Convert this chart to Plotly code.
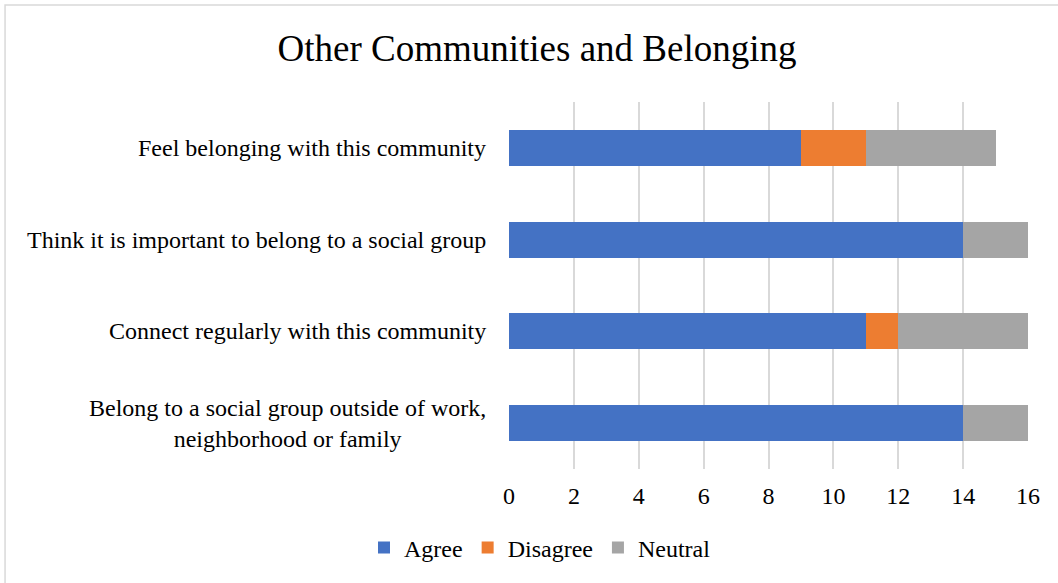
import plotly.graph_objects as go

# Survey statements (bottom to top) and response counts
statements = [
    "Belong to a social group outside of work,<br>neighborhood or family",
    "Connect regularly with this community",
    "Think it is important to belong to a social group",
    "Feel belonging with this community",
]
agree = [14, 11, 14, 9]
disagree = [0, 1, 0, 2]
neutral = [2, 4, 2, 4]

x_ticks = [0, 2, 4, 6, 8, 10, 12, 14, 16]

FONT = "Liberation Serif"

fig = go.Figure()
for name, vals, color in [
    ("Agree", agree, "#4472C4"),
    ("Disagree", disagree, "#ED7D31"),
    ("Neutral", neutral, "#A5A5A5"),
]:
    fig.add_trace(go.Bar(
        y=statements, x=vals, name=name, orientation="h",
        marker=dict(color=color, line=dict(width=0)),
        width=0.39,
    ))

# Category labels as annotations so wrapped lines stay centred
for s in statements:
    fig.add_annotation(
        x=0, xref="paper", y=s, yref="y",
        text=s, showarrow=False, xanchor="right", yanchor="middle",
        align="center", xshift=-21,
        font=dict(family=FONT, size=24, color="#000000"),
    )

# Chart border
fig.add_shape(
    type="rect", xref="paper", yref="paper",
    x0=-0.971, x1=1.1, y0=-0.4, y1=1.264,
    line=dict(color="#D9D9D9", width=1.5), fillcolor="rgba(0,0,0,0)",
    layer="below",
)

fig.update_layout(
    width=1058, height=583,
    margin=dict(l=509, r=30, t=102, b=114),
    paper_bgcolor="white", plot_bgcolor="white",
    barmode="stack",
    title=dict(
        text="Other Communities and Belonging",
        x=537 / 1058, xref="container", xanchor="center",
        y=1 - 48 / 583, yref="container", yanchor="middle",
        font=dict(family=FONT, size=37, color="#000000"),
    ),
    xaxis=dict(
        range=[0, 16], tickvals=x_ticks, ticktext=[str(t) for t in x_ticks],
        showgrid=True, gridcolor="#D9D9D9", gridwidth=1.5,
        zeroline=False, showline=False, ticks="",
        tickfont=dict(family=FONT, size=24, color="#000000"),
        ticklabelstandoff=10,
    ),
    yaxis=dict(
        showticklabels=False, showgrid=False, zeroline=False,
        categoryorder="array", categoryarray=statements,
    ),
    legend=dict(
        orientation="h", x=(540 - 509) / 519, xanchor="center",
        y=(469 - 548) / 367, yanchor="middle",
        font=dict(family=FONT, size=24, color="#000000"),
        itemwidth=30, traceorder="normal",
    ),
    bargap=0.6,
)

fig.write_html("out.html")
